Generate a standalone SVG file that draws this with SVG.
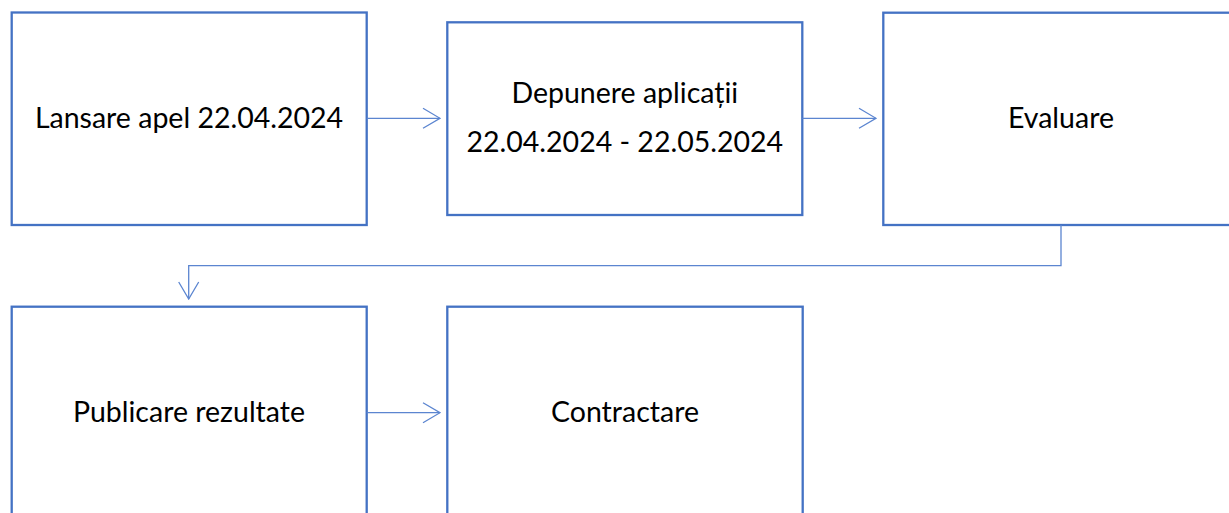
<svg xmlns="http://www.w3.org/2000/svg" width="1229" height="513" viewBox="0 0 1229 513">
<style>
.box{fill:#ffffff;stroke:#4472C4;stroke-width:2.3}
.lbl{font-family:Lato,"Open Sans","Liberation Sans",sans-serif;font-size:28.5px;fill:#000000;text-anchor:middle}
.con{fill:none;stroke:#5B85D0;stroke-width:1.3}
</style>
<defs>
<marker id="arr" markerUnits="userSpaceOnUse" viewBox="0 0 19 22" refX="18" refY="11" markerWidth="19" markerHeight="22" orient="auto">
<path d="M1,1 L18,11 L1,21" fill="none" stroke="#5B85D0" stroke-width="1.3"/>
</marker>
</defs>
<rect width="1229" height="513" fill="#ffffff"/>
<g id="n1"><rect class="box" x="11.7" y="12.5" width="355" height="212.5"/><text class="lbl" x="189" y="128">Lansare apel 22.04.2024</text></g>
<g id="n2"><rect class="box" x="447.3" y="22.3" width="355" height="192.7"/><text class="lbl" x="624.8" y="103.3">Depunere aplicații</text><text class="lbl" x="624.8" y="151.7">22.04.2024 - 22.05.2024</text></g>
<g id="n3"><rect class="box" x="883.3" y="12.7" width="355.4" height="212.3"/><text class="lbl" x="1061" y="128">Evaluare</text></g>
<g id="n4"><rect class="box" x="11.7" y="306.7" width="355" height="230"/><text class="lbl" x="189" y="421.7">Publicare rezultate</text></g>
<g id="n5"><rect class="box" x="447.3" y="306.7" width="355.4" height="230"/><text class="lbl" x="625" y="421.7">Contractare</text></g>
<g id="connectors">
<path class="con" d="M366.7,118.3 H440" marker-end="url(#arr)"/>
<path class="con" d="M802.3,118.3 H876" marker-end="url(#arr)"/>
<path class="con" d="M1061,225 V265.7 H188.7 V299" marker-end="url(#arr)"/>
<path class="con" d="M366.7,412.7 H440" marker-end="url(#arr)"/>
</g>
</svg>
